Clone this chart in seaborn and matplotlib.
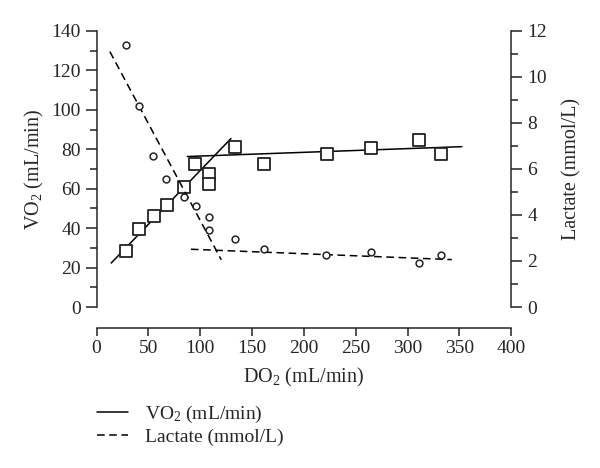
import seaborn as sns
import matplotlib.pyplot as plt
from matplotlib.lines import Line2D
from matplotlib.ticker import MultipleLocator

# data
do2 = [28, 40.5, 55, 67.6, 84.3, 95.2, 108.7, 108.7, 133.5, 161.5, 222, 264.8, 310.8, 332]
vo2 = [28.6, 39.4, 46.2, 51.6, 60.7, 72.4, 67.3, 62.4, 81, 72.4, 77.8, 80.8, 84.9, 77.5]

do2_lac = [28.6, 40.5, 54, 67.2, 84.6, 95.8, 108.7, 108.7, 133.8, 161.2, 221.6, 264.5, 310.8, 332]
lactate = [11.39, 8.74, 6.57, 5.58, 4.76, 4.37, 3.93, 3.36, 2.95, 2.54, 2.28, 2.37, 1.92, 2.27]

# fitted lines (end points)
vo2_fit1_x = [14.1, 129.6]
vo2_fit1_y = [22.3, 85.4]
vo2_fit2_x = [87.5, 352.3]
vo2_fit2_y = [76.3, 81.3]
lac_fit1_x = [12.8, 120.3]
lac_fit1_y = [11.1, 2.05]
lac_fit2_x = [91, 342.7]
lac_fit2_y = [2.51, 2.06]

sns.set_theme(style='ticks')
plt.rcParams['font.family'] = ['Liberation Serif', 'DejaVu Serif']
plt.rcParams['mathtext.fontset'] = 'custom'
plt.rcParams['mathtext.rm'] = 'Liberation Serif'
plt.rcParams['mathtext.it'] = 'Liberation Serif:italic'
plt.rcParams['axes.linewidth'] = 1.1

fig = plt.figure(figsize=(6, 4.68), dpi=100)
ax = fig.add_axes([0.161, 0.344, 0.691, 0.590])
ax2 = ax.twinx()

lw = 1.1
dash = (0, (5, 3))

# VO2 (left axis)
sns.lineplot(x=vo2_fit1_x, y=vo2_fit1_y, color='black', lw=lw, ax=ax)
sns.lineplot(x=vo2_fit2_x, y=vo2_fit2_y, color='black', lw=lw, ax=ax)
sns.scatterplot(x=do2, y=vo2, marker='s', s=85, facecolor='white',
                edgecolor='#222222', linewidth=1.3, ax=ax, zorder=3)

# lactate (right axis)
sns.lineplot(x=lac_fit1_x, y=lac_fit1_y, color='black', lw=lw, ax=ax2, linestyle=dash)
sns.lineplot(x=lac_fit2_x, y=lac_fit2_y, color='black', lw=lw, ax=ax2, linestyle=dash)
sns.scatterplot(x=do2_lac, y=lactate, marker='o', s=24, facecolor='white',
                edgecolor='#222222', linewidth=1.1, ax=ax2, zorder=3)

ax.set_xlim(0, 400)
ax.set_ylim(0, 140)
ax2.set_ylim(0, 12)

ax.xaxis.set_major_locator(MultipleLocator(50))
ax.yaxis.set_major_locator(MultipleLocator(20))
ax.yaxis.set_minor_locator(MultipleLocator(10))
ax2.yaxis.set_major_locator(MultipleLocator(2))
ax2.yaxis.set_minor_locator(MultipleLocator(1))

for a in (ax, ax2):
    a.spines['top'].set_visible(False)
    a.spines['bottom'].set_position(('outward', 15))
    a.tick_params(which='major', length=8, width=1.1, labelsize=14, color='#222222')
    a.tick_params(which='minor', length=5, width=1.1, color='#222222')
ax.spines['right'].set_visible(False)
ax2.spines['left'].set_visible(False)
ax2.spines['bottom'].set_visible(False)
ax.tick_params(axis='x', length=6, pad=3)

ax.set_xlabel(r'DO$_\mathregular{2}$ (mL/min)', fontsize=14.5, labelpad=6)
ax.set_ylabel(r'VO$_\mathregular{2}$ (mL/min)', fontsize=14.5, labelpad=4)
ax2.set_ylabel('Lactate (mmol/L)', fontsize=14.5, labelpad=11)

handles = [Line2D([], [], color='black', lw=lw),
           Line2D([], [], color='black', lw=lw, linestyle=dash)]
labels = [r'VO$_\mathregular{2}$ (mL/min)', 'Lactate (mmol/L)']
fig.legend(handles, labels, loc='upper left', bbox_to_anchor=(0.162, 0.138),
           frameon=False, fontsize=14, handlelength=1.6, handletextpad=0.85,
           labelspacing=0.2, borderpad=0, borderaxespad=0)

fig.savefig('out.png', dpi=100)
